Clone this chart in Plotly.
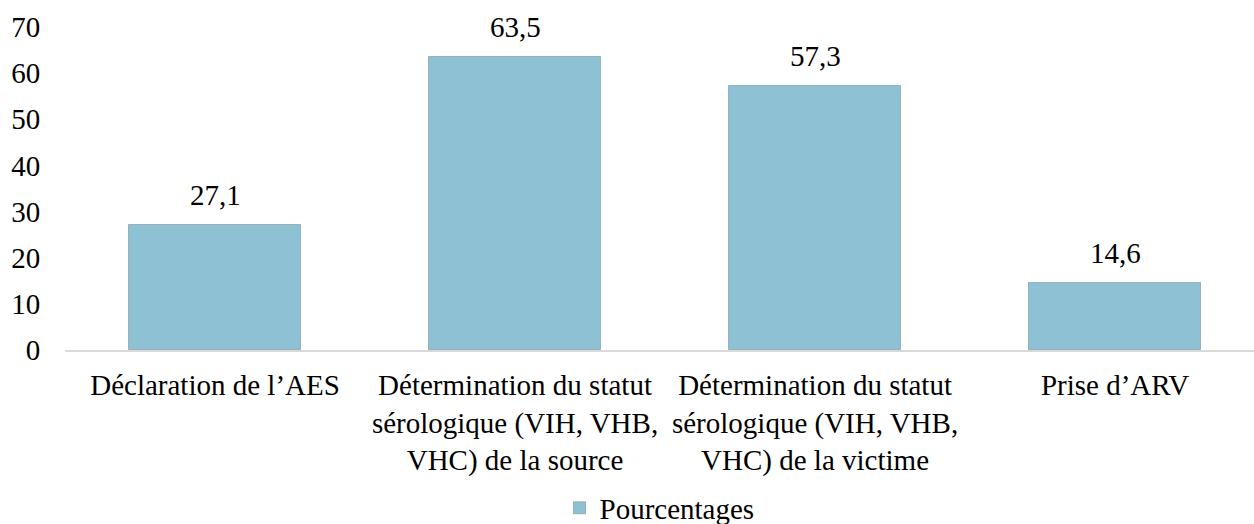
import plotly.graph_objects as go

categories = [
    "Déclaration de l’AES",
    "Détermination du statut<br>sérologique (VIH, VHB,<br>VHC) de la source",
    "Détermination du statut<br>sérologique (VIH, VHB,<br>VHC) de la victime",
    "Prise d’ARV",
]
values = [27.1, 63.5, 57.3, 14.6]
series_name = "Pourcentages"
y_ticks = [0, 10, 20, 30, 40, 50, 60, 70]

FONT = "Liberation Serif"
FS = 29

fig = go.Figure()
fig.add_trace(go.Bar(
    x=categories,
    y=values,
    name=series_name,
    width=0.573,
    marker=dict(color="#8fc1d4", line=dict(color="rgba(110,140,150,0.55)", width=1)),
    showlegend=True,
))

for c, v in zip(categories, values):
    fig.add_annotation(
        x=c, y=v, text=f"{v:.1f}".replace(".", ","),
        showarrow=False, yanchor="bottom", yshift=12,
        font=dict(family=FONT, size=FS, color="black"),
    )

fig.update_layout(
    width=1254, height=524,
    margin=dict(l=65, r=0, t=27, b=174, autoexpand=False),
    paper_bgcolor="white", plot_bgcolor="white",
    separators=", ",
    font=dict(family=FONT, size=FS, color="black"),
    bargap=0,
    showlegend=True,
    legend=dict(orientation="h", x=0.5, xanchor="center", y=-0.489, yanchor="middle",
                font=dict(family=FONT, size=FS, color="black"),
                itemwidth=30),
    xaxis=dict(
        range=[-0.5, 3.463],
        automargin=False,
        showline=True, linecolor="#d9d9d9", linewidth=2,
        showgrid=False, zeroline=False,
        ticks="outside", ticklen=8, tickcolor="rgba(0,0,0,0)",
        tickfont=dict(family=FONT, size=FS, color="black"),
        tickangle=0,
    ),
    yaxis=dict(
        range=[0, 70],
        automargin=False,
        tickvals=y_ticks,
        showline=False, showgrid=False, zeroline=False,
        ticks="outside", ticklen=18, tickcolor="rgba(0,0,0,0)",
        tickfont=dict(family=FONT, size=FS, color="black"),
    ),
)

fig.write_html("out.html", config={"displayModeBar": False},
               post_script="document.body.style.margin='0';")
